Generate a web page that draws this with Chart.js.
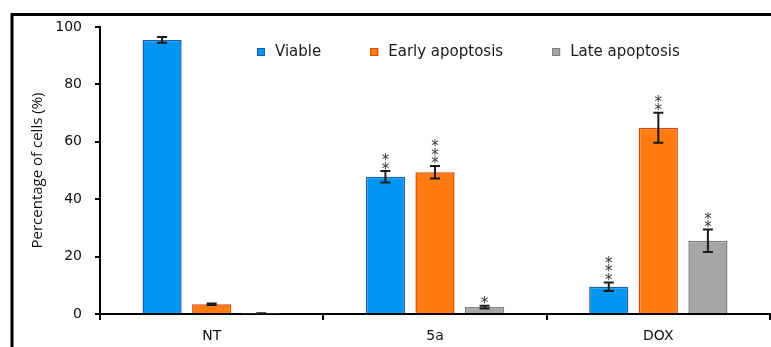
<!DOCTYPE html>
<html>
<head>
<meta charset="utf-8">
<script src="https://cdn.jsdelivr.net/npm/chart.js@4.4.1/dist/chart.umd.min.js"></script>
<style>
  html, body { margin: 0; padding: 0; background: #fff; overflow: hidden; }
  #wrap { width: 771px; height: 347px; }
</style>
</head>
<body>
<div id="wrap"><canvas id="myChart" width="771" height="347"></canvas></div>
<script>

var categories = ['NT', '5a', 'DOX'];

var viable = [95.5, 47.8, 9.5];
var viableErr = [1.0, 2.0, 1.5];
var viableStars = ['', '**', '***'];

var early = [3.4, 49.4, 64.9];
var earlyErr = [0.3, 2.2, 5.2];
var earlyStars = ['', '***', '**'];

var late = [0.2, 2.4, 25.5];
var lateErr = [0.1, 0.5, 3.9];
var lateStars = ['', '*', '**'];

var yTicks = [0, 20, 40, 60, 80, 100];

var errors = [viableErr, earlyErr, lateErr];
var stars = [viableStars, earlyStars, lateStars];

// frame round the figure (top and left only, like the picture)
var framePlugin = {
    id: 'frame',
    afterDraw: function (chart) {
        var ctx = chart.ctx;
        ctx.save();
        ctx.strokeStyle = '#000';
        ctx.lineWidth = 3;
        ctx.beginPath();
        ctx.moveTo(12, 347);
        ctx.lineTo(12, 14.5);
        ctx.lineTo(771, 14.5);
        ctx.stroke();
        ctx.restore();
    }
};

// error bars and significance stars
var errorPlugin = {
    id: 'errorBars',
    afterDatasetsDraw: function (chart) {
        var ctx = chart.ctx;
        var y = chart.scales.y;
        ctx.save();
        for (var d = 0; d < chart.data.datasets.length; d++) {
            var meta = chart.getDatasetMeta(d);
            var vals = chart.data.datasets[d].data;
            for (var i = 0; i < meta.data.length; i++) {
                var x = meta.data[i].x;
                var top = y.getPixelForValue(vals[i] + errors[d][i]);
                var bot = y.getPixelForValue(vals[i] - errors[d][i]);
                ctx.strokeStyle = '#1a1a1a';
                ctx.lineWidth = 2;
                ctx.beginPath();
                ctx.moveTo(x, top); ctx.lineTo(x, bot);
                ctx.moveTo(x - 5, top); ctx.lineTo(x + 5, top);
                ctx.moveTo(x - 5, bot); ctx.lineTo(x + 5, bot);
                ctx.stroke();

                var s = stars[d][i];
                ctx.fillStyle = '#333';
                ctx.font = '15px "DejaVu Sans"';
                ctx.textAlign = 'center';
                ctx.textBaseline = 'alphabetic';
                for (var k = 0; k < s.length; k++) {
                    ctx.fillText('*', x, top - 6 - k * 8.5 + 8.5);
                }
            }
        }
        ctx.restore();
    }
};

// legend sits inside the plot, drawn by hand
var legendPlugin = {
    id: 'insideLegend',
    afterDraw: function (chart) {
        var ctx = chart.ctx;
        var x = 257, yc = 52;
        ctx.save();
        ctx.font = '15px "DejaVu Sans"';
        ctx.textBaseline = 'middle';
        ctx.textAlign = 'left';
        chart.data.datasets.forEach(function (ds) {
            ctx.fillStyle = ds.backgroundColor;
            ctx.fillRect(x, yc - 4, 8, 8);
            ctx.strokeStyle = ds.borderColor;
            ctx.lineWidth = 1;
            ctx.strokeRect(x + 0.5, yc - 3.5, 7, 7);
            ctx.fillStyle = '#1a1a1a';
            ctx.fillText(ds.label, x + 18, yc);
            x += 18 + ctx.measureText(ds.label).width + 49;
        });
        ctx.restore();
    }
};

var dataSource = {
    labels: categories,
    datasets: [
        { label: 'Viable', data: viable, backgroundColor: '#0096ef', borderColor: '#1a5fb4' },
        { label: 'Early apoptosis', data: early, backgroundColor: '#ff7b12', borderColor: '#d44a00' },
        { label: 'Late apoptosis', data: late, backgroundColor: '#a6a6a6', borderColor: '#808080' }
    ]
};

dataSource.datasets.forEach(function (ds) {
    ds.borderWidth = 1.5;
    ds.categoryPercentage = 0.666;
    ds.barPercentage = 0.79;
});

function createChart() {
    var ctx = document.getElementById('myChart').getContext('2d');
    new Chart(ctx, {
        type: 'bar',
        data: dataSource,
        options: {
            responsive: false,
            animation: false,
            layout: { padding: { top: 27, right: 1, left: 20, bottom: 0 } },
            plugins: {
                legend: { display: false },
                tooltip: { enabled: false }
            },
            scales: {
                x: {
                    grid: { display: true, offset: true, drawOnChartArea: false, color: '#000', lineWidth: 2, tickLength: 6 },
                    border: { color: '#000', width: 2 },
                    ticks: { color: '#111', font: { family: 'DejaVu Sans', size: 14 }, padding: 8 },
                    afterFit: function (scale) { scale.height = 33; }
                },
                y: {
                    min: 0, max: 100,
                    afterBuildTicks: function (scale) {
                        scale.ticks = yTicks.map(function (v) { return { value: v }; });
                    },
                    grid: { display: true, drawOnChartArea: false, color: '#000', lineWidth: 2, tickLength: 5 },
                    border: { color: '#000', width: 2 },
                    ticks: { color: '#111', font: { family: 'DejaVu Sans', size: 14 }, padding: 13 },
                    title: {
                        display: true,
                        text: 'Percentage of cells (%)',
                        color: '#111',
                        font: { family: 'Open Sans', size: 15 },
                        padding: { top: 9, bottom: 0 }
                    },
                    afterFit: function (scale) { scale.width = 80; }
                }
            }
        },
        plugins: [framePlugin, errorPlugin, legendPlugin]
    });
}
createChart();

</script>
</body>
</html>
